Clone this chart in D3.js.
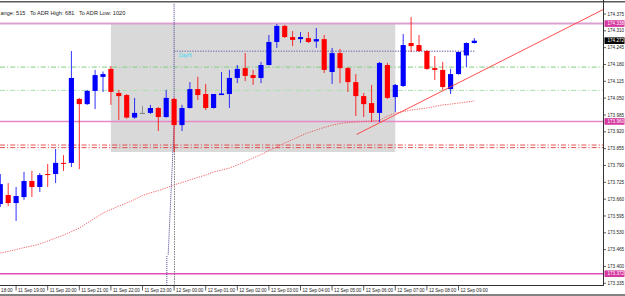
<!DOCTYPE html>
<html>
<head>
<meta charset="utf-8">
<script src="https://cdn.jsdelivr.net/npm/d3@7"></script>
<style>
    body { margin: 0; background: #fff; }
    svg { display: block; font-family: "Liberation Sans", Arial, sans-serif; }
</style>
</head>
<body>
<div id="my_chart"></div>
<script>
// M15 candles, index 0 = 11 Sep 18:30
var opens  = [173.641,173.676,173.645,173.668,173.730,173.707,173.757,173.757,173.800,173.800,
              174.047,174.027,174.078,174.132,174.163,174.070,174.062,173.975,173.993,173.993,
              174.012,173.977,174.047,173.946,174.012,174.085,174.066,174.012,174.062,174.066,
              174.128,174.166,174.139,174.128,174.178,174.267,174.329,174.286,174.278,174.282,
              174.269,174.278,174.151,174.224,174.166,174.112,174.058,174.031,173.993,174.178,
              174.054,174.097,174.263,174.255,174.232,174.166,174.159,174.085,174.143,174.215,
              174.263];
var highs  = [173.757,173.722,173.707,173.765,173.769,173.761,173.796,173.854,173.830,174.232,
              174.051,174.082,174.159,174.153,174.174,174.082,174.066,174.051,174.020,174.024,
              174.016,174.082,174.051,174.024,174.112,174.132,174.105,174.066,174.151,174.159,
              174.178,174.224,174.159,174.190,174.294,174.336,174.333,174.309,174.305,174.305,
              174.321,174.294,174.244,174.240,174.170,174.143,174.070,174.101,174.190,174.186,
              174.105,174.298,174.363,174.294,174.236,174.213,174.190,174.163,174.230,174.265,
              174.282];
var lows   = [173.630,173.633,173.576,173.657,173.668,173.688,173.707,173.722,173.769,173.784,
              173.776,174.024,174.008,174.074,174.024,173.966,173.971,173.971,173.989,173.989,
              173.923,173.975,173.842,173.923,174.010,174.043,174.004,174.010,174.062,174.012,
              174.108,174.116,174.101,174.108,174.176,174.244,174.282,174.251,174.263,174.263,
              174.244,174.147,174.105,174.108,174.074,173.981,173.977,173.958,173.958,174.047,
              173.997,174.093,174.228,174.228,174.159,174.120,174.082,174.066,174.141,174.170,
              174.261];
var closes = [173.718,173.645,173.672,173.730,173.707,173.753,173.753,173.800,173.796,174.128,
              174.027,174.078,174.139,174.143,174.074,174.058,173.975,173.993,173.993,174.012,
              173.977,174.051,173.946,174.012,174.085,174.062,174.012,174.066,174.068,174.128,
              174.163,174.136,174.128,174.178,174.267,174.329,174.286,174.275,174.286,174.267,
              174.278,174.159,174.224,174.166,174.112,174.058,174.027,173.993,174.186,174.051,
              174.101,174.255,174.251,174.232,174.163,174.159,174.093,174.143,174.228,174.263,
              174.272];
// long moving average (dotted red)
var maValues = [173.452,173.458,173.465,173.473,173.479,173.487,173.498,173.510,173.521,173.535,
                173.548,173.568,173.587,173.606,173.620,173.633,173.645,173.659,173.674,173.684,
                173.693,173.703,173.715,173.724,173.734,173.744,173.753,173.765,173.772,173.780,
                173.792,173.805,173.819,173.832,173.848,173.861,173.877,173.890,173.904,173.917,
                173.927,173.937,173.946,173.952,173.956,173.958,173.960,173.962,173.964,173.981,
                173.993,173.998,174.004,174.008,174.012,174.018,174.024,174.027,174.031,174.035,
                174.039];

// first label is cut by the left edge in the original, only "18:00" shows
var hourLabels = ["18:00","11 Sep 19:00","11 Sep 20:00","11 Sep 21:00","11 Sep 22:00",
                  "11 Sep 23:00","12 Sep 00:00","12 Sep 01:00","12 Sep 02:00","12 Sep 03:00",
                  "12 Sep 04:00","12 Sep 05:00","12 Sep 06:00","12 Sep 07:00","12 Sep 08:00",
                  "12 Sep 09:00"];
var hourIndex = [-2,2,6,10,14,18,22,26,30,34,38,42,46,50,54,58];

var priceTicks = [174.375,174.310,174.245,174.180,174.115,174.050,173.985,173.920,173.855,
                  173.790,173.725,173.660,173.595,173.530,173.465,173.400,173.335];

var magentaLevels = [174.338, 173.960, 173.372];
var greenLevels = [174.170, 174.080];
var redLevels = [173.869, 173.859];
var dayHi = 174.231, dayHiFrom = 22, dayHiTo = 60;
var boxFrom = 14, boxTo = 50, boxLow = 173.842, boxHigh = 174.338;
var trendPts = [[45.1, 173.910], [76.3, 174.392]];
var sessionLine = [[22, 174.43], [22, 173.945], [21.25, 173.445]];
var sessionLine2 = [[21.08, 173.44], [21.08, 173.33]];
var dayLine = [[22.05, 173.865], [22.05, 173.33]];
var headerText = "ange: 515   To ADR High: 681   To ADR Low: 1020";

var width = 625, height = 296;
var plotRight = 603, plotTop = 3, plotBottom = 285;
var fs = 4.6;

var svg = d3.select("#my_chart").append("svg")
    .attr("width", width).attr("height", height);

var x = d3.scaleLinear().domain([0, 60]).range([0.3, 474.3]);
var y = d3.scaleLinear().domain([173.335, 174.375]).range([283.3, 14]);
var step = x(1) - x(0);

svg.append("clipPath").attr("id", "clip").append("rect")
    .attr("x", 0).attr("y", plotTop).attr("width", plotRight).attr("height", plotBottom - plotTop);
var plot = svg.append("g").attr("clip-path", "url(#clip)");

// session box
plot.append("rect")
    .attr("x", x(boxFrom)).attr("width", x(boxTo) - x(boxFrom))
    .attr("y", y(boxHigh)).attr("height", y(boxLow) - y(boxHigh))
    .attr("fill", "#d9d9d9");

function hline(p, color, w, dash) {
    plot.append("line")
        .attr("x1", 0).attr("x2", plotRight)
        .attr("y1", y(p)).attr("y2", y(p))
        .attr("stroke", color).attr("stroke-width", w)
        .attr("stroke-dasharray", dash || null);
}
hline(greenLevels[0], "#7fcf7f", 1, "5,2,1.2,2");
hline(greenLevels[1], "#a9dfa9", 1, "5,2,1.2,2");
hline(redLevels[0], "#e23c3c", 0.9, "5,2,1.2,2");
hline(redLevels[1], "#e23c3c", 0.9, "5,2,1.2,2");
hline(magentaLevels[0], "#dca0cf", 2);
hline(magentaLevels[1], "#e48ac6", 1.4);
hline(magentaLevels[2], "#e04fb4", 1.4);

var line = d3.line().x(function (d) { return x(d[0]); }).y(function (d) { return y(d[1]); });

// moving average
plot.append("path")
    .attr("d", d3.line().x(function (d, i) { return x(i); }).y(function (d) { return y(d); })(maValues))
    .attr("fill", "none").attr("stroke", "#f04848").attr("stroke-width", 1)
    .attr("stroke-dasharray", "1.2,1.2").style("opacity", 0.85);

// day high dotted
plot.append("line")
    .attr("x1", x(dayHiFrom)).attr("x2", x(dayHiTo))
    .attr("y1", y(dayHi)).attr("y2", y(dayHi))
    .attr("stroke", "#8a8ab8").attr("stroke-width", 1.5).attr("stroke-dasharray", "1.3,1.3");
plot.append("text")
    .attr("x", x(dayHiFrom) + 5).attr("y", y(dayHi) + 5.5)
    .attr("fill", "#30d8f0").style("font-size", fs + "px").text("DayHi");

// vertical session lines
plot.append("path").attr("d", line(sessionLine))
    .attr("fill", "none").attr("stroke", "#2b2b80").attr("stroke-width", 0.9).attr("stroke-dasharray", "1,1");
plot.append("path").attr("d", line(sessionLine2))
    .attr("fill", "none").attr("stroke", "#2b2b80").attr("stroke-width", 0.9).attr("stroke-dasharray", "1,1");
plot.append("path").attr("d", line(dayLine))
    .attr("fill", "none").attr("stroke", "#707070").attr("stroke-width", 0.9).attr("stroke-dasharray", "1.5,1");

// candles
var candles = d3.range(opens.length).map(function (i) {
    return { t: i, o: opens[i], h: highs[i], l: lows[i], c: closes[i] };
});
function candleColor(d) {
    if (d.o === d.c) return "#808080";
    return d.c > d.o ? "#0000ff" : "#ff0000";
}
plot.selectAll("wicks").data(candles).enter().append("line")
    .attr("x1", function (d) { return x(d.t); }).attr("x2", function (d) { return x(d.t); })
    .attr("y1", function (d) { return y(d.h); }).attr("y2", function (d) { return y(d.l); })
    .attr("stroke", candleColor).attr("stroke-width", 1).style("opacity", 0.8);
var bodyW = step * 0.65;
plot.selectAll("bodies").data(candles).enter().append("rect")
    .attr("x", function (d) { return x(d.t) - bodyW / 2; })
    .attr("width", bodyW)
    .attr("y", function (d) { return y(Math.max(d.o, d.c)); })
    .attr("height", function (d) { return Math.max(1, Math.abs(y(d.o) - y(d.c))); })
    .attr("fill", candleColor);

// trend line
plot.append("path").attr("d", line(trendPts))
    .attr("fill", "none").attr("stroke", "#ff3a3a").attr("stroke-width", 0.9);

// frame
svg.append("line").attr("x1", 0).attr("x2", width).attr("y1", 1.8).attr("y2", 1.8)
    .attr("stroke", "#5a5a5a").attr("stroke-width", 1.4);
svg.append("line").attr("x1", 0).attr("x2", width).attr("y1", 295).attr("y2", 295)
    .attr("stroke", "#5a5a5a").attr("stroke-width", 1.4);
svg.append("text").attr("x", 0.5).attr("y", 15)
    .attr("fill", "#222").style("font-size", "5.6px").style("white-space", "pre")
    .attr("xml:space", "preserve").text(headerText);

// price axis
svg.append("line").attr("x1", plotRight + 0.5).attr("x2", plotRight + 0.5)
    .attr("y1", 0).attr("y2", plotBottom).attr("stroke", "#333").attr("stroke-width", 1);
var pa = svg.append("g");
pa.selectAll("ptick").data(priceTicks).enter().append("line")
    .attr("x1", plotRight + 0.5).attr("x2", plotRight + 3)
    .attr("y1", function (d) { return y(d); }).attr("y2", function (d) { return y(d); })
    .attr("stroke", "#333").attr("stroke-width", 0.8);
pa.selectAll("plabel").data(priceTicks).enter().append("text")
    .attr("x", plotRight + 4.5).attr("y", function (d) { return y(d); })
    .attr("dy", "0.35em").attr("fill", "#222").style("font-size", fs + "px")
    .text(function (d) { return d.toFixed(3); });

var tags = magentaLevels.map(function (p) { return { p: p, bg: "#d4379e" }; });
tags.push({ p: closes[closes.length - 1], bg: "#000" });
var tg = pa.selectAll("tag").data(tags).enter().append("g");
tg.append("rect").attr("x", plotRight + 1.5).attr("width", 20)
    .attr("y", function (d) { return y(d.p) - 3.3; }).attr("height", 6.6)
    .attr("fill", function (d) { return d.bg; });
tg.append("text").attr("x", plotRight + 4.5).attr("y", function (d) { return y(d.p); })
    .attr("dy", "0.35em").attr("fill", "#fff").style("font-size", fs + "px")
    .text(function (d) { return d.p.toFixed(3); });

// time axis
svg.append("line").attr("x1", 0).attr("x2", plotRight + 1)
    .attr("y1", plotBottom + 0.5).attr("y2", plotBottom + 0.5).attr("stroke", "#333").attr("stroke-width", 1);
var ta = svg.append("g");
ta.selectAll("ttick").data(hourIndex).enter().append("line")
    .attr("x1", function (d) { return x(d); }).attr("x2", function (d) { return x(d); })
    .attr("y1", plotBottom + 0.5).attr("y2", plotBottom + 5.5)
    .attr("stroke", "#333").attr("stroke-width", 0.8);
ta.selectAll("tlabel").data(hourLabels).enter().append("text")
    .attr("x", function (d, i) { return i === 0 ? x(hourIndex[1]) - 3.5 : x(hourIndex[i]) + 2; })
    .attr("text-anchor", function (d, i) { return i === 0 ? "end" : "start"; })
    .attr("y", plotBottom + 6.5).attr("fill", "#222").style("font-size", fs + "px")
    .text(function (d) { return d; });
</script>
</body>
</html>
